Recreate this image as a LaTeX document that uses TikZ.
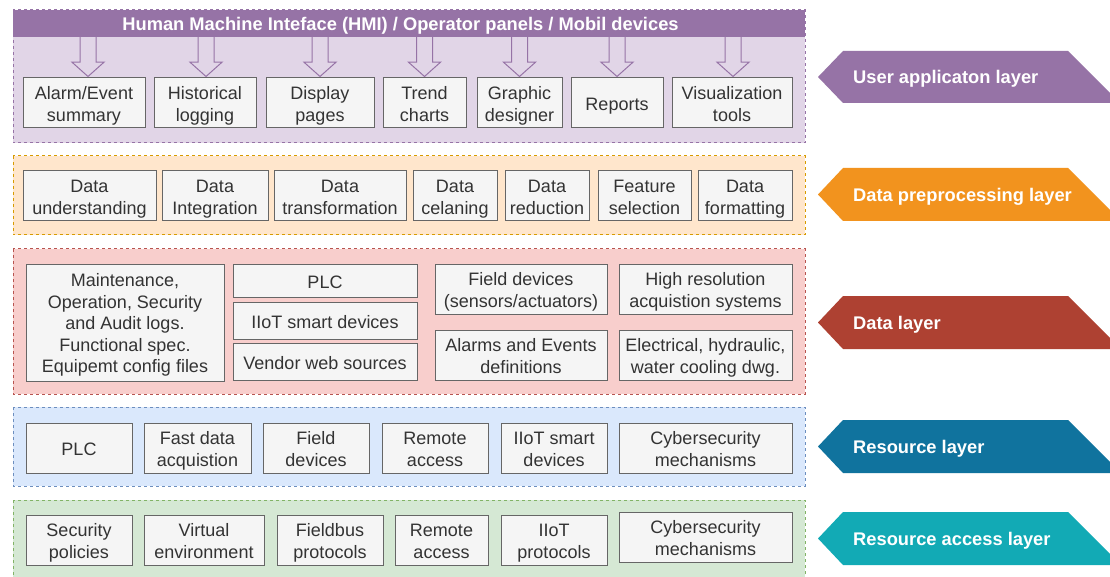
\documentclass[tikz,border=0pt]{standalone}
\usepackage{fontspec}
\setmainfont{Liberation Sans}
\usetikzlibrary{calc}
\definecolor{boxfill}{HTML}{F5F5F5}
\definecolor{boxline}{HTML}{666666}
\definecolor{boxtext}{HTML}{333333}
\definecolor{pufill}{HTML}{E1D5E7}
\definecolor{puline}{HTML}{9673A6}
\definecolor{orfill}{HTML}{FFE6CC}
\definecolor{orline}{HTML}{D79B00}
\definecolor{refill}{HTML}{F8CECC}
\definecolor{reline}{HTML}{B85450}
\definecolor{blfill}{HTML}{DAE8FC}
\definecolor{blline}{HTML}{6C8EBF}
\definecolor{grfill}{HTML}{D5E8D4}
\definecolor{grline}{HTML}{82B366}
\definecolor{tagpu}{HTML}{9673A6}
\definecolor{tagor}{HTML}{F2931E}
\definecolor{tagre}{HTML}{AE4132}
\definecolor{tagbl}{HTML}{10739E}
\definecolor{tagte}{HTML}{12AAB5}
\newcommand\boxnode[7][18.5]{\node[itembox, minimum width={(#5-#3)*1pt}, minimum height={(#6-#4)*1pt}] (#2) at ({(#3+#5)/2},{(#4+#6)/2}) {\rule{0pt}{#1pt}#7\rule[-4pt]{0pt}{4pt}};}
\newcommand\layertag[5]{%
  \fill[#4] (818,{(#2+#3)/2}) -- (843,#2) -- (1068,#2) -- ({1068+#3-#2},#3) -- (843,#3) -- cycle;
  \node[tagtext, anchor=west] (#1) at (853,{(#2+#3)/2+0.5}) {#5};}
\begin{document}
\begin{tikzpicture}[x=1pt,y=-1pt,
  itembox/.style={draw=boxline, fill=boxfill, line width=1pt, inner sep=0pt, align=center,
    text=boxtext, font=\fontsize{18}{21.6}\selectfont},
  layerbg/.style={line width=1pt, dash pattern=on 3pt off 3pt},
  tagtext/.style={text=white, font=\fontsize{18.3}{22}\selectfont\bfseries, inner sep=0pt,
    text height=13pt, text depth=0pt},
  blockarr/.style={draw=puline, fill=pufill, line width=1pt, line join=miter}]
\useasboundingbox (0,0) rectangle (1110,577);
\clip (0,0) rectangle (1110,577);
\fill[white] (0,0) rectangle (1110,577);
% layer backgrounds
\draw[layerbg, draw=puline, fill=pufill] (13,10) rectangle (805,143);
\draw[layerbg, draw=orline, fill=orfill] (13,156) rectangle (805,235);
\draw[layerbg, draw=reline, fill=refill] (13,249) rectangle (805,394);
\draw[layerbg, draw=blline, fill=blfill] (13,407) rectangle (805,486);
\draw[layerbg, draw=grline, fill=grfill] (13,500) rectangle (805,600);
% header
\node[fill=puline, minimum width=792pt, minimum height=27pt, inner sep=0pt] (hdr) at (409,23.5) {};
\node[tagtext] (hdrtext) at (400.5,24) {Human Machine Inteface (HMI) / Operator panels / Mobil devices};
% user application layer
\boxnode{ua1}{23}{78}{145}{128}{Alarm/Event\\summary}
\boxnode{ua2}{154}{78}{256}{128}{Historical\\logging}
\boxnode{ua3}{266}{78}{374}{128}{Display\\pages}
\boxnode{ua4}{383}{78}{466}{128}{Trend\\charts}
\boxnode{ua5}{477}{78}{562}{128}{Graphic\\designer}
\boxnode[19]{ua6}{571}{78}{663}{128}{Reports}
\boxnode{ua7}{672}{78}{792}{128}{Visualization\\tools}
\foreach \n/\dx in {ua1/4,ua2/1,ua3/0,ua4/0,ua5/0,ua6/0,ua7/1}{
  \draw[blockarr] ($(\n.north |- hdr.south)+(\dx-8,0)$) -- ++(0,25) -- ++(-8,0) -- ($(\n.north)+(\dx,-1)$)
    -- ($(\n.north |- hdr.south)+(\dx+16,25)$) -- ++(-8,0) -- ++(0,-25);
}
% data preprocessing layer
\boxnode{dp1}{23}{171}{156}{221}{Data\\understanding}
\boxnode{dp2}{162}{171}{268}{221}{Data\\Integration}
\boxnode{dp3}{274}{171}{406}{221}{Data\\transformation}
\boxnode{dp4}{413}{171}{497}{221}{Data\\celaning}
\boxnode{dp5}{505}{171}{589}{221}{Data\\reduction}
\boxnode{dp6}{598}{171}{691}{221}{Feature\\selection}
\boxnode{dp7}{698}{171}{792}{221}{Data\\formatting}
% data layer
\boxnode{dl1}{26}{264}{224}{381}{Maintenance,\\Operation, Security\\and Audit logs.\\Functional spec.\\Equipemt config files}
\boxnode[19]{dl2}{233}{264}{417}{297}{PLC}
\boxnode[19]{dl3}{233}{302}{417}{339}{IIoT smart devices}
\boxnode[19]{dl4}{233}{343}{417}{380}{Vendor web sources}
\boxnode{dl5}{435}{264}{607}{314}{Field devices\\(sensors/actuators)}
\boxnode{dl6}{619}{264}{792}{314}{High resolution\\acquistion systems}
\boxnode{dl7}{435}{330}{607}{380}{Alarms and Events\\definitions}
\boxnode{dl8}{619}{330}{792}{380}{Electrical, hydraulic,\\water cooling dwg.}
% resource layer
\boxnode[19]{rl1}{26}{423}{132}{473}{PLC}
\boxnode{rl2}{144}{423}{251}{473}{Fast data\\acquistion}
\boxnode{rl3}{263}{423}{369}{473}{Field\\devices}
\boxnode{rl4}{382}{423}{488}{473}{Remote\\access}
\boxnode{rl5}{501}{423}{607}{473}{IIoT smart\\devices}
\boxnode{rl6}{619}{423}{792}{473}{Cybersecurity\\mechanisms}
% resource access layer
\boxnode{ra1}{26}{515}{132}{565}{Security\\policies}
\boxnode{ra2}{144}{515}{264}{565}{Virtual\\environment}
\boxnode{ra3}{277}{515}{383}{565}{Fieldbus\\protocols}
\boxnode{ra4}{395}{515}{488}{565}{Remote\\access}
\boxnode{ra5}{501}{515}{607}{565}{IIoT\\protocols}
\boxnode{ra6}{619}{512}{792}{562}{Cybersecurity\\mechanisms}
% layer tags
\layertag{t1}{51}{103}{tagpu}{User applicaton layer}
\layertag{t2}{168}{221}{tagor}{Data preprocessing layer}
\layertag{t3}{296}{349}{tagre}{Data layer}
\layertag{t4}{420}{473}{tagbl}{Resource layer}
\layertag{t5}{512}{565}{tagte}{Resource access layer}
\end{tikzpicture}
\end{document}
